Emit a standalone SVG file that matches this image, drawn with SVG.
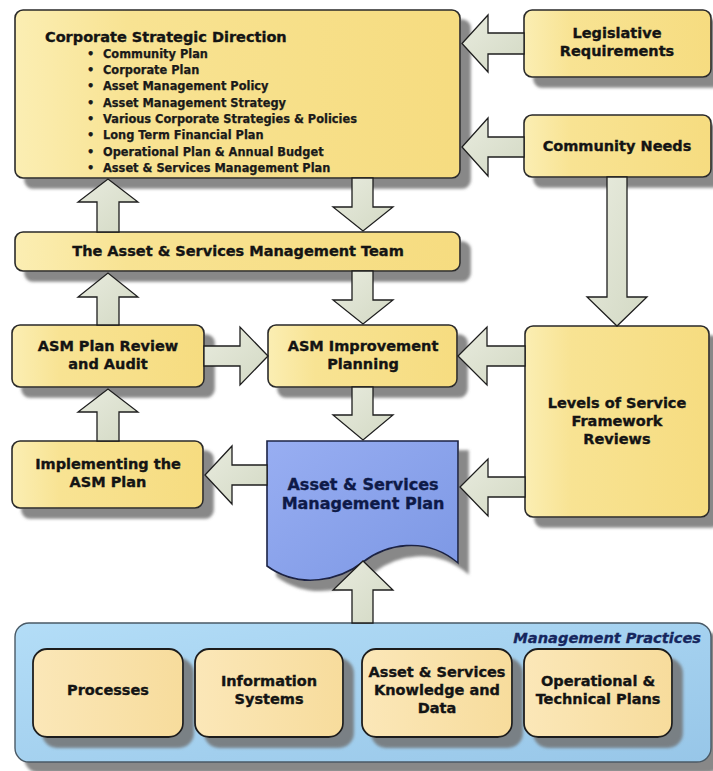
<svg xmlns="http://www.w3.org/2000/svg" width="713" height="771" viewBox="0 0 713 771">
<defs>
  <linearGradient id="yel" x1="0" y1="0" x2="1" y2="0">
    <stop offset="0" stop-color="#fbeeb3"/>
    <stop offset="0.25" stop-color="#f8e393"/>
    <stop offset="1" stop-color="#f6dc80"/>
  </linearGradient>
  <linearGradient id="peach" x1="0" y1="0" x2="1" y2="0">
    <stop offset="0" stop-color="#fbe7b8"/>
    <stop offset="1" stop-color="#f7dc9c"/>
  </linearGradient>
  <linearGradient id="blue" x1="0" y1="0" x2="1" y2="1">
    <stop offset="0" stop-color="#b3ddf7"/>
    <stop offset="1" stop-color="#97c6e8"/>
  </linearGradient>
  <linearGradient id="doc" x1="0" y1="0" x2="1" y2="1">
    <stop offset="0" stop-color="#98aef2"/>
    <stop offset="1" stop-color="#7c97e4"/>
  </linearGradient>
  <linearGradient id="arr" x1="0" y1="0" x2="1" y2="1">
    <stop offset="0" stop-color="#e8ebde"/>
    <stop offset="1" stop-color="#d3d9c4"/>
  </linearGradient>
  <filter id="sh" x="-10%" y="-20%" width="130%" height="170%">
    <feGaussianBlur in="SourceAlpha" stdDeviation="1.8"/>
    <feOffset dx="10" dy="10" result="o"/>
    <feFlood flood-color="#737373" flood-opacity="0.85"/>
    <feComposite in2="o" operator="in"/>
    <feMerge><feMergeNode/><feMergeNode in="SourceGraphic"/></feMerge>
  </filter>
</defs>
<style>
  .box{fill:url(#yel);stroke:#2a2a2a;stroke-width:1.6;filter:url(#sh)}
  .inner{fill:url(#peach);stroke:#1e1e1e;stroke-width:1.8;filter:url(#sh)}
  .t{font-family:"DejaVu Sans",Verdana,sans-serif;font-weight:bold;font-size:14.5px;fill:#141414;stroke:#141414;stroke-width:0.35px;text-anchor:middle}
  .b{font-family:"DejaVu Sans",Verdana,sans-serif;font-weight:bold;font-size:11.4px;fill:#1a1a1a;stroke:#1a1a1a;stroke-width:0.25px}
  .arrow{fill:url(#arr);stroke:#1e1e1e;stroke-width:1.3;stroke-linejoin:miter}
</style>
<rect width="713" height="771" fill="#ffffff"/>

<g id="management-practices">
  <rect x="15" y="623" width="696" height="139" rx="14" fill="url(#blue)" stroke="#4a5a66" stroke-width="1.4" filter="url(#sh)"/>
  <text x="701" y="643" font-family="DejaVu Sans,Verdana,sans-serif" font-weight="bold" font-style="italic" font-size="14.6" fill="#16265e" stroke="#16265e" stroke-width="0.3" text-anchor="end">Management Practices</text>
</g>
<g id="processes">
  <rect class="inner" x="33" y="649" width="150" height="88" rx="14"/>
  <text class="t" x="108" y="695">Processes</text>
</g>
<g id="information-systems">
  <rect class="inner" x="195" y="649" width="148" height="88" rx="14"/>
  <text class="t" x="269" y="686">Information</text>
  <text class="t" x="269" y="704">Systems</text>
</g>
<g id="knowledge-data">
  <rect class="inner" x="362" y="649" width="150" height="88" rx="14"/>
  <text class="t" x="437" y="677">Asset &amp; Services</text>
  <text class="t" x="437" y="695">Knowledge and</text>
  <text class="t" x="437" y="713">Data</text>
</g>
<g id="operational-technical">
  <rect class="inner" x="524" y="649" width="148" height="88" rx="14"/>
  <text class="t" x="598" y="686">Operational &amp;</text>
  <text class="t" x="598" y="704">Technical Plans</text>
</g>

<g id="corporate-strategic-direction">
  <rect class="box" x="15" y="10" width="445" height="168" rx="8"/>
  <text class="t" x="45" y="42" style="text-anchor:start">Corporate Strategic Direction</text>
  <g class="b">
    <text x="87" y="58">•</text><text x="103" y="58">Community Plan</text>
    <text x="87" y="74">•</text><text x="103" y="74">Corporate Plan</text>
    <text x="87" y="90">•</text><text x="103" y="90">Asset Management Policy</text>
    <text x="87" y="107">•</text><text x="103" y="107">Asset Management Strategy</text>
    <text x="87" y="123">•</text><text x="103" y="123">Various Corporate Strategies &amp; Policies</text>
    <text x="87" y="139">•</text><text x="103" y="139">Long Term Financial Plan</text>
    <text x="87" y="156">•</text><text x="103" y="156">Operational Plan &amp; Annual Budget</text>
    <text x="87" y="172">•</text><text x="103" y="172">Asset &amp; Services Management Plan</text>
  </g>
</g>
<g id="legislative-requirements">
  <rect class="box" x="524" y="10" width="187" height="67" rx="8"/>
  <text class="t" x="617" y="38">Legislative</text>
  <text class="t" x="617" y="56">Requirements</text>
</g>
<g id="community-needs">
  <rect class="box" x="524" y="115" width="187" height="62" rx="8"/>
  <text class="t" x="617" y="151">Community Needs</text>
</g>
<g id="asm-team">
  <rect class="box" x="15" y="232" width="445" height="39" rx="8"/>
  <text class="t" x="238" y="256">The Asset &amp; Services Management Team</text>
</g>
<g id="asm-plan-review">
  <rect class="box" x="12" y="325" width="192" height="62" rx="8"/>
  <text class="t" x="108" y="351">ASM Plan Review</text>
  <text class="t" x="108" y="369">and Audit</text>
</g>
<g id="asm-improvement-planning">
  <rect class="box" x="268" y="325" width="189" height="62" rx="8"/>
  <text class="t" x="363" y="351">ASM Improvement</text>
  <text class="t" x="363" y="369">Planning</text>
</g>
<g id="levels-of-service">
  <rect class="box" x="525" y="326" width="184" height="191" rx="8"/>
  <text class="t" x="617" y="408">Levels of Service</text>
  <text class="t" x="617" y="426">Framework</text>
  <text class="t" x="617" y="444">Reviews</text>
</g>
<g id="implementing-asm-plan">
  <rect class="box" x="12" y="441" width="191" height="67" rx="8"/>
  <text class="t" x="108" y="469">Implementing the</text>
  <text class="t" x="108" y="487">ASM Plan</text>
</g>
<g id="asm-plan-document">
  <path d="M267,441 H458 V563 C425,535 385,545 363,562 C340,580 300,590 267,566 Z" fill="url(#doc)" stroke="#1c2444" stroke-width="1.6" filter="url(#sh)"/>
  <text class="t" x="363" y="490" style="font-size:16px;fill:#0e1a48;stroke:#0e1a48">Asset &amp; Services</text>
  <text class="t" x="363" y="509" style="font-size:16px;fill:#0e1a48;stroke:#0e1a48">Management Plan</text>
</g>

<g id="connectors">
  <polygon class="arrow" points="524,33 488,33 488,15 462,43.5 488,72 488,54 524,54"/>
  <polygon class="arrow" points="524,137 488,137 488,118 462,147 488,176 488,157 524,157"/>
  <polygon class="arrow" points="352,178 352,207 333,207 363,231 393,207 373,207 373,178"/>
  <polygon class="arrow" points="97,232 97,202 78,202 108,179 138,202 119,202 119,232"/>
  <polygon class="arrow" points="352,271 352,300 333,300 363,324 393,300 373,300 373,271"/>
  <polygon class="arrow" points="97,325 97,297 78,297 108,273 138,297 119,297 119,325"/>
  <polygon class="arrow" points="204,346 240,346 240,327 268,356 240,385 240,366 204,366"/>
  <polygon class="arrow" points="607,177 607,297 587,297 617,326 647,297 627,297 627,177"/>
  <polygon class="arrow" points="525,346 487,346 487,327 458,356 487,385 487,366 525,366"/>
  <polygon class="arrow" points="352,387 352,415 333,415 363,440 393,415 373,415 373,387"/>
  <polygon class="arrow" points="97,441 97,412 78,412 108,389 138,412 119,412 119,441"/>
  <polygon class="arrow" points="267,465 232,465 232,446 205,475 232,504 232,485 267,485"/>
  <polygon class="arrow" points="525,477 488,477 488,459 460,487 488,516 488,497 525,497"/>
  <polygon class="arrow" points="352,623 352,590 333,590 363,561 393,590 373,590 373,623"/>
</g>
</svg>
